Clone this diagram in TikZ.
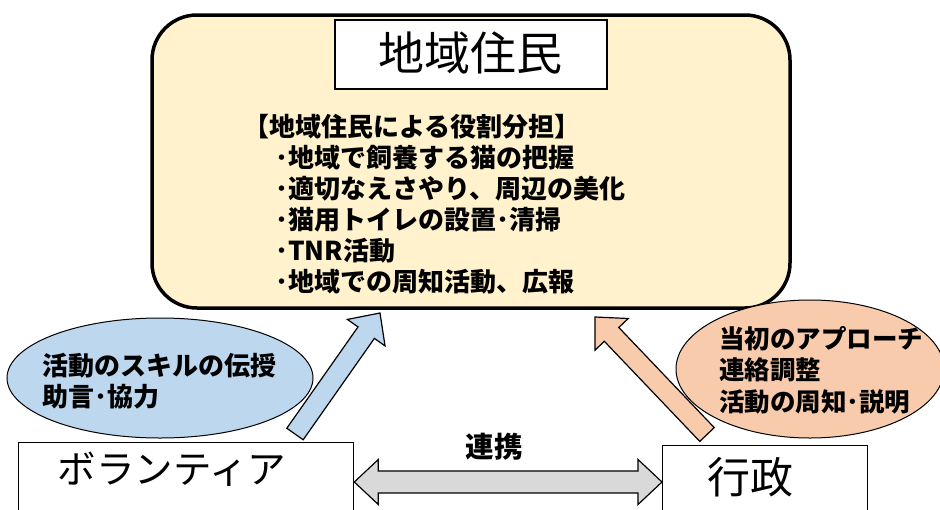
\documentclass[tikz,border=0pt]{standalone}
\usepackage{fontspec}
\newfontfamily\jp{Noto Sans CJK JP}
\usetikzlibrary{calc,shapes.geometric}
\definecolor{creamF}{HTML}{FFF2CC}
\definecolor{blueF}{HTML}{BDD7EE}
\definecolor{orangeF}{HTML}{F8CBAD}
\definecolor{grayF}{HTML}{D9D9D9}
\begin{document}
\begin{tikzpicture}[x=1pt,y=-1pt,
  whitebox/.style={draw, line width=1.3pt, fill=white, inner sep=0pt},
  lst/.style={anchor=west, inner sep=0pt, font=\jp\bfseries\fontsize{26}{31}\selectfont},
  bubble/.style={ellipse, draw, line width=1pt, inner sep=0pt},
  blk/.style={draw, line width=1.2pt, line join=miter},
  bubtext/.style={anchor=west, inner sep=0pt, align=left, font=\jp\bfseries\fontsize{25.5}{31.5}\selectfont}]
\useasboundingbox (0,0) rectangle (940,509);
\clip (0,0) rectangle (940,509);
\fill[white] (0,0) rectangle (940,509);

% residents main box
\node[draw, line width=3.5pt, fill=creamF, rounded corners=45pt, minimum width=638pt, minimum height=293pt, inner sep=0pt] (res) at (471,161.5) {};
\node[whitebox, line width=1.6pt, minimum width=272pt, minimum height=69pt] (title) at (471,54.5) {};
\node[font=\jp\fontsize{46}{50}\selectfont, inner sep=0pt] (titlet) at (470,53) {地域住民};

\node[lst] (l0) at (243,127) {【地域住民による役割分担】};
\node[lst] (l1) at (275,158) {･地域で飼養する猫の把握};
\node[lst] (l2) at (275,189) {･適切なえさやり、周辺の美化};
\node[lst] (l3) at (275,220) {･猫用トイレの設置･清掃};
\node[lst] (l4) at (275,251) {･TNR活動};
\node[lst] (l5) at (275,282) {･地域での周知活動、広報};

% bottom boxes
\node[whitebox, minimum width=335pt, minimum height=90pt, anchor=north west] (vol) at (18,442) {};
\node[font=\jp\fontsize{38.5}{42}\selectfont, inner sep=0pt] (volt) at (172,469) {ボランティア};
\node[whitebox, minimum width=205pt, minimum height=90pt, anchor=north west] (gov) at (662,445) {};
\node[font=\jp\fontsize{43}{46}\selectfont, inner sep=0pt] (govt) at (750,477) {行政};

% bubbles
\node[bubble, fill=blueF, minimum width=306pt, minimum height=120pt] (skill) at (160,378) {};
\node[bubtext, font=\jp\bfseries\fontsize{26}{31.5}\selectfont] (skillt) at (42,381) {活動のスキルの伝授\\助言･協力};
\node[bubble, fill=orangeF, minimum width=268pt, minimum height=138pt] (admin) at (810,369) {};
\node[bubtext] (admint) at (719,370) {当初のアプローチ\\連絡調整\\活動の周知･説明};

% blue block arrow
\coordinate (b0) at (295,434);
\coordinate (b1) at (380,313);
\coordinate (bh) at ($(b1)!24pt!(b0)$);
\filldraw[blk, fill=blueF] ($(b0)!10pt!90:(b1)$) -- ($(bh)!10pt!90:(b1)$) -- ($(bh)!23pt!90:(b1)$) -- (b1)
  -- ($(bh)!23pt!-90:(b1)$) -- ($(bh)!10pt!-90:(b1)$) -- ($(b0)!10pt!-90:(b1)$) -- cycle;

% orange block arrow
\coordinate (o0) at (707,434.5);
\coordinate (o1) at (595,317);
\coordinate (oh) at ($(o1)!24pt!(o0)$);
\filldraw[blk, fill=orangeF] ($(o0)!10pt!90:(o1)$) -- ($(oh)!10pt!90:(o1)$) -- ($(oh)!23pt!90:(o1)$) -- (o1)
  -- ($(oh)!23pt!-90:(o1)$) -- ($(oh)!10pt!-90:(o1)$) -- ($(o0)!10pt!-90:(o1)$) -- cycle;

% double arrow
\coordinate (L) at (vol.east |- 0,482);
\coordinate (R) at (gov.west |- 0,482);
\coordinate (Lh) at ($(L)!24pt!(R)$);
\coordinate (Rh) at ($(R)!24pt!(L)$);
\filldraw[blk, fill=grayF] (L) -- ($(Lh)!22.5pt!90:(R)$) -- ($(Lh)!11pt!90:(R)$) -- ($(Rh)!11pt!-90:(L)$)
  -- ($(Rh)!22.5pt!-90:(L)$) -- (R) -- ($(Rh)!22.5pt!90:(L)$) -- ($(Rh)!11pt!90:(L)$)
  -- ($(Lh)!11pt!-90:(R)$) -- ($(Lh)!22.5pt!-90:(R)$) -- cycle;
\node[font=\jp\bfseries\fontsize{28.5}{31}\selectfont, inner sep=0pt] (link) at (494,447) {連携};
\end{tikzpicture}
\end{document}
